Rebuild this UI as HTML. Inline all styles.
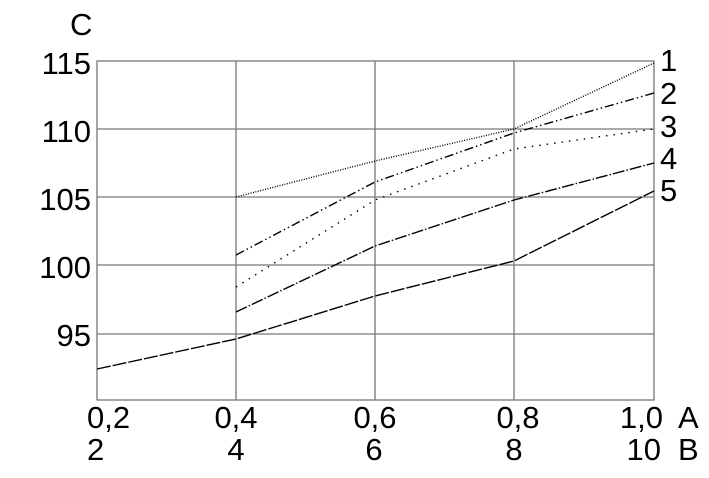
<!DOCTYPE html>
<html><head><style>body{margin:0;background:#fff}</style></head><body>
<svg width="709" height="473" xmlns="http://www.w3.org/2000/svg" font-family="Liberation Sans, sans-serif" font-size="31" fill="#000">
<rect width="709" height="473" fill="#fff"/>
<g stroke="#777" stroke-width="1.3" fill="none">
<rect x="97" y="61" width="557" height="339"/>
<line x1="236" y1="61" x2="236" y2="400"/><line x1="375" y1="61" x2="375" y2="400"/><line x1="514" y1="61" x2="514" y2="400"/>
<line x1="97" y1="129" x2="654" y2="129"/><line x1="97" y1="197" x2="654" y2="197"/><line x1="97" y1="265" x2="654" y2="265"/><line x1="97" y1="334" x2="654" y2="334"/>
</g>
<g fill="none" stroke="#000" stroke-width="1.4">
<polyline points="236,197 375,161 514,129 654,63" stroke-dasharray="1,1.5"/>
<polyline points="236,255 375,182 514,133 654,93" stroke-dasharray="9,3,1.5,3,1.5,3"/>
<polyline points="236,287 375,200 514,149 654,129" stroke-dasharray="1.5,6"/>
<polyline points="236,312 375,246 514,200 654,163" stroke-dasharray="12,2,1.5,2"/>
<polyline points="97,369 236,339 375,296 514,261 654,191" stroke-dasharray="14,2"/>
</g>
<text x="70" y="35">C</text>
<g text-anchor="end">
<text x="91" y="74">115</text><text x="91" y="142">110</text><text x="91" y="210">105</text><text x="91" y="278">100</text><text x="91" y="346">95</text>
</g>
<text x="87" y="428">0,2</text><text x="87" y="460">2</text>
<g text-anchor="middle">
<text x="236" y="428">0,4</text><text x="375" y="428">0,6</text><text x="518" y="428">0,8</text>
<text x="236" y="460">4</text><text x="374" y="460">6</text><text x="514" y="460">8</text>
</g>
<g text-anchor="end"><text x="663" y="428">1,0</text><text x="661" y="460">10</text></g>
<text x="678" y="428">A</text><text x="678" y="460">B</text>
<text x="660" y="71">1</text><text x="660" y="104">2</text><text x="660" y="137">3</text><text x="660" y="169">4</text><text x="660" y="201">5</text>
</svg>
</body></html>
